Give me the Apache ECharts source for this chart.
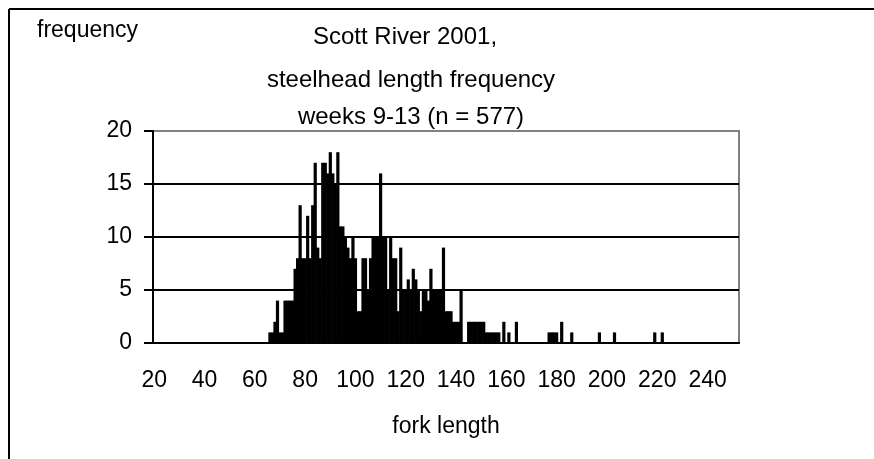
<!DOCTYPE html>
<html>
<head>
<meta charset="utf-8">
<script src="https://cdn.jsdelivr.net/npm/echarts@6/dist/echarts.min.js"></script>
<style>
  html, body { margin: 0; padding: 0; background: #fff; }
  #chart { width: 874px; height: 459px; }
</style>
</head>
<body>
<div id="chart"></div>
<script>
// fork length (mm) and how many fish were measured at that length
const lengths = [
  66, 67, 68, 69, 70, 71, 72, 73, 74, 75,
  76, 77, 78, 79, 80, 81, 82, 83, 84, 85,
  86, 87, 88, 89, 90, 91, 92, 93, 94, 95,
  96, 97, 98, 99, 100, 101, 102, 103, 104, 105,
  106, 107, 108, 109, 110, 111, 112, 113, 114, 115,
  116, 117, 118, 119, 120, 121, 122, 123, 124, 125,
  126, 127, 128, 129, 130, 131, 132, 133, 134, 135,
  136, 137, 138, 139, 140, 141, 142, 145, 146, 147,
  148, 149, 150, 151, 152, 153, 154, 155, 156, 157,
  159, 161, 164, 177, 178, 179, 180, 182, 186, 197,
  203, 219, 222
]
const counts = [
  1, 1, 2, 4, 1, 1, 4, 4, 4, 4,
  7, 8, 13, 8, 8, 12, 8, 13, 17, 9,
  8, 17, 17, 16, 18, 16, 15, 18, 11, 11,
  10, 9, 8, 10, 8, 3, 3, 8, 8, 5,
  8, 10, 10, 10, 16, 10, 10, 5, 10, 8,
  8, 3, 9, 5, 5, 6, 5, 7, 6, 5,
  3, 5, 5, 4, 7, 5, 5, 5, 5, 9,
  3, 3, 3, 2, 2, 2, 5, 2, 2, 2,
  2, 2, 2, 2, 1, 1, 1, 1, 1, 1,
  2, 1, 2, 1, 1, 1, 1, 2, 1, 1,
  1, 1, 1
]
const firstLength = 20
const lastLength = 252
const yTicks = [0, 5, 10, 15, 20]
const titleLines = ['Scott River 2001,', 'steelhead length frequency', 'weeks 9-13 (n = 577)']

const categories = []
for (let l = firstLength; l <= lastLength; l++) categories.push(String(l))

const font = '"Liberation Sans", Arial, sans-serif'
const titleStyle = { fontFamily: font, fontSize: 24, fontWeight: 'normal', color: '#000' }

const chart = echarts.init(document.getElementById('chart'))
chart.setOption({
  backgroundColor: '#fff',
  animation: false,
  textStyle: { fontFamily: font, color: '#000' },
  title: [
    { text: 'frequency', left: 37, top: 19, padding: 0, textStyle: { fontFamily: font, fontSize: 23, fontWeight: 'normal', color: '#000' } },
    { text: titleLines[0], left: 405, top: 25, padding: 0, textAlign: 'center', textStyle: titleStyle },
    { text: titleLines[1], left: 411, top: 68, padding: 0, textAlign: 'center', textStyle: titleStyle },
    { text: titleLines[2], left: 411, top: 105, padding: 0, textAlign: 'center', textStyle: titleStyle }
  ],
  graphic: [
    { type: 'line', shape: { x1: 9, y1: 9, x2: 874, y2: 9 }, style: { stroke: '#000', lineWidth: 2 } },
    { type: 'line', shape: { x1: 9, y1: 9, x2: 9, y2: 459 }, style: { stroke: '#000', lineWidth: 2 } }
  ],
  grid: {
    left: 153, right: 135, top: 131, bottom: 116,
    show: true, borderColor: '#808080', borderWidth: 2, backgroundColor: '#fff'
  },
  xAxis: {
    type: 'category',
    data: categories,
    boundaryGap: true,
    name: 'fork length',
    nameLocation: 'middle',
    nameGap: 72,
    nameTextStyle: { fontFamily: font, fontSize: 23, color: '#000' },
    axisLine: { lineStyle: { color: '#000', width: 2 } },
    axisTick: { interval: 9, length: 9, lineStyle: { color: '#000', width: 2 } },
    axisLabel: { interval: 19, margin: 26, fontSize: 23, color: '#000', fontFamily: font },
    splitLine: { show: false }
  },
  yAxis: {
    type: 'value',
    min: yTicks[0],
    max: yTicks[yTicks.length - 1],
    interval: 5,
    axisLine: { show: true, lineStyle: { color: '#000', width: 2 } },
    axisTick: { show: true, length: 9, lineStyle: { color: '#000', width: 2 } },
    axisLabel: { margin: 21, fontSize: 23, color: '#000', fontFamily: font },
    splitLine: { show: true, lineStyle: { color: ['#000', '#000', '#000', '#000', '#808080'], width: 2 } }
  },
  series: [{
    type: 'bar',
    data: lengths.map((l, i) => [String(l), counts[i]]),
    barWidth: 3.2,
    itemStyle: { color: '#000' }
  }]
})
</script>
</body>
</html>
